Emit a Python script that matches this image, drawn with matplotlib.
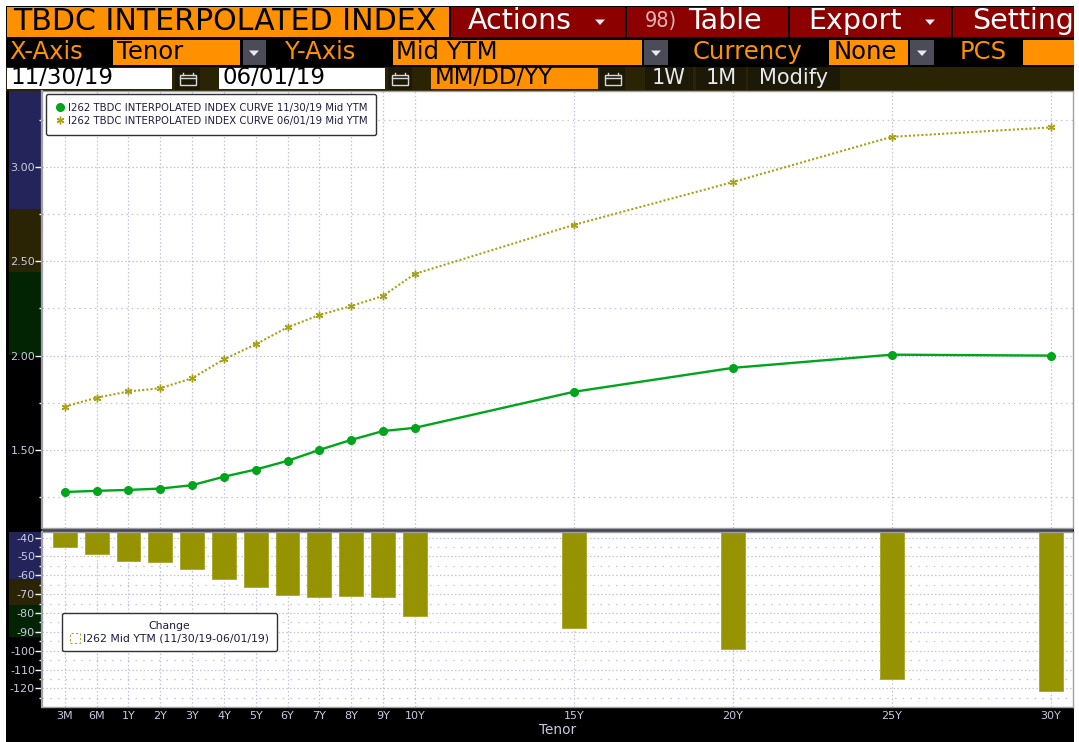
#!/usr/bin/env python3
"""TBDC interpolated index curve screen: yield curves on top, change bars below."""
import matplotlib
matplotlib.use('Agg')
import matplotlib.pyplot as plt
from matplotlib.patches import Patch, Rectangle
from matplotlib.ticker import FixedLocator

W, H = 1079, 742

# ═══════════ data ═══════════
tenors = ['3M', '6M', '1Y', '2Y', '3Y', '4Y', '5Y', '6Y', '7Y', '8Y', '9Y', '10Y', '15Y', '20Y', '25Y', '30Y']
tenor_pos = [-1, 0, 1, 2, 3, 4, 5, 6, 7, 8, 9, 10, 15, 20, 25, 30]
ytm_nov = [1.277, 1.283, 1.288, 1.295, 1.313, 1.358, 1.396, 1.442, 1.50, 1.553, 1.60, 1.617, 1.808, 1.935, 2.005, 2.00]
ytm_jun = [1.73, 1.777, 1.81, 1.827, 1.88, 1.98, 2.06, 2.15, 2.215, 2.263, 2.316, 2.433, 2.693, 2.92, 3.16, 3.21]
change = [-44.8, -48.8, -52.2, -53.1, -56.6, -61.8, -66.4, -70.4, -71.3, -71.0, -71.3, -81.6, -88, -99, -115.2, -121.2]
y_top_ticks = [1.5, 2.0, 2.5, 3.0]
y_bot_ticks = [-40, -50, -60, -70, -80, -90, -100, -110, -120]

label_nov = 'I262 TBDC INTERPOLATED INDEX CURVE 11/30/19 Mid YTM'
label_jun = 'I262 TBDC INTERPOLATED INDEX CURVE 06/01/19 Mid YTM'
label_chg = 'I262 Mid YTM (11/30/19-06/01/19)'

# ═══════════ colours ═══════════
ORANGE = '#ff9100'
RED = '#8c0000'
OLIVE_BG = '#2a2405'
GREY_BTN = '#4c4c58'
TICK_TXT = '#c8cbe0'
GRID = '#c2c2da'
GREEN = '#00a51c'
OLIVE = '#a8a214'
BAR = '#959300'


def px_axes(fig, x0, y0, x1, y1, **kw):
    """axes placed by pixel box (y from the top)"""
    return fig.add_axes([x0 / W, 1 - y1 / H, (x1 - x0) / W, (y1 - y0) / H], **kw)


def box(ui, x0, y0, x1, y1, color, edge='none'):
    ui.add_patch(Rectangle((x0, y0), x1 - x0, y1 - y0, facecolor=color, edgecolor=edge, linewidth=0.8))


def label(ui, x, y, s, color, size=17.5, **kw):
    ui.text(x, y, s, color=color, fontsize=size, va='center', ha=kw.pop('ha', 'left'), **kw)


def arrow(ui, cx, cy, color='#e8e8f4'):
    ui.fill([cx - 5, cx + 5, cx], [cy - 2.5, cy - 2.5, cy + 3], color=color, lw=0)


def calendar(ui, x0, x1, y0, y1):
    box(ui, x0, y0, x1, y1, '#1c1a06')
    cx, cy = (x0 + x1) / 2, (y0 + y1) / 2
    ui.add_patch(Rectangle((cx - 8, cy - 4), 16, 10, fill=False, edgecolor='#d8d8d8', lw=1))
    ui.plot([cx - 8, cx + 8], [cy - 1, cy - 1], color='#d8d8d8', lw=1)
    ui.plot([cx - 5, cx - 5], [cy - 6, cy - 4], color='#d8d8d8', lw=1)
    ui.plot([cx + 5, cx + 5], [cy - 6, cy - 4], color='#d8d8d8', lw=1)


def draw_toolbar(ui):
    # 第一行
    box(ui, 6, 6, 1074, 39, 'black')
    box(ui, 7, 7, 449, 37, ORANGE)
    label(ui, 13, 22, 'TBDC INTERPOLATED INDEX', 'black', size=21.6)
    for x0, x1 in [(451, 625), (627, 788), (790, 951), (953, 1074)]:
        box(ui, x0, 7, x1, 37, RED)
    label(ui, 468, 21, 'Actions', 'white', size=20.5)
    arrow(ui, 600, 22)
    label(ui, 645, 21, '98)', '#e0b4b4', size=15.5, stretch='condensed')
    label(ui, 688, 21, 'Table', 'white', size=20.5)
    label(ui, 808, 21, 'Export', 'white', size=20.5)
    arrow(ui, 930, 22)
    label(ui, 972, 21, 'Setting', 'white', size=20.5)

    # 第二行
    box(ui, 6, 39, 1074, 67, 'black')
    label(ui, 9, 52, 'X-Axis', ORANGE)
    box(ui, 113, 40, 240, 65, ORANGE)
    label(ui, 117, 52, 'Tenor', 'black')
    box(ui, 243, 40, 266, 65, GREY_BTN)
    arrow(ui, 254, 53)
    label(ui, 285, 52, 'Y-Axis', ORANGE)
    box(ui, 393, 40, 642, 65, ORANGE)
    label(ui, 396, 52, 'Mid YTM', 'black')
    box(ui, 644, 40, 668, 65, GREY_BTN)
    arrow(ui, 656, 53)
    label(ui, 693, 52, 'Currency', ORANGE)
    box(ui, 829, 40, 908, 65, ORANGE)
    label(ui, 834, 52, 'None', 'black')
    box(ui, 910, 40, 934, 65, GREY_BTN)
    arrow(ui, 922, 53)
    label(ui, 960, 52, 'PCS', ORANGE)
    box(ui, 1023, 40, 1074, 65, ORANGE)

    # 第三行
    box(ui, 6, 67, 1074, 91, OLIVE_BG)
    box(ui, 7, 68, 172, 89, 'white')
    label(ui, 10, 78, '11/30/19', 'black', size=16.5)
    calendar(ui, 175, 200, 67, 90)
    box(ui, 219, 68, 385, 89, 'white')
    label(ui, 222, 78, '06/01/19', 'black', size=16.5)
    calendar(ui, 388, 412, 67, 90)
    box(ui, 431, 68, 598, 89, ORANGE)
    label(ui, 435, 78, 'MM/DD/YY', 'black', size=16.5)
    calendar(ui, 600, 625, 67, 90)
    for x0, x1, s in [(645, 693, '1W'), (696, 746, '1M'), (748, 840, 'Modify')]:
        box(ui, x0, 67, x1, 90, '#1c1a06')
        label(ui, (x0 + x1) / 2, 78, s, '#e8e8f0', size=15, ha='center')


def draw_sidebar(ui):
    box(ui, 6, 91, 1074, H, 'black')
    # 侧栏色带
    for y0, y1, c in [(91, 209, '#24245a'), (209, 272, '#2a2405'), (272, 355, '#022402'),
                      (532, 579, '#24245a'), (579, 605, '#2a2405'), (605, 637, '#022402')]:
        box(ui, 9, y0, 42, y1, c)
    box(ui, 42, 528, 1073, 532, '#47474d')


def style_panel(ax, major_y, minor_y, minor_gap):
    ax.set_xlim(-1.72, 30.7)
    ax.set_xticks(tenor_pos)
    ax.yaxis.set_major_locator(FixedLocator(major_y))
    ax.yaxis.set_minor_locator(FixedLocator(minor_y))
    ax.set_axisbelow(True)
    ax.grid(True, which='major', color=GRID, linestyle=(0, (1.2, 1.8)), linewidth=0.9)
    ax.grid(True, which='minor', axis='y', color=GRID, linestyle=(0, (1.2, minor_gap)), linewidth=0.9)
    ax.tick_params(axis='y', which='major', colors='white', length=5, width=1, pad=0, labelsize=8,
                   labelcolor=TICK_TXT)
    ax.tick_params(axis='y', which='minor', colors='white', length=2, width=1)
    ax.tick_params(axis='x', length=0, pad=3, labelsize=8, labelcolor=TICK_TXT)
    for name in ('top', 'right', 'bottom', 'left'):
        ax.spines[name].set_color('#a0a0a8')
        ax.spines[name].set_linewidth(1)
    ax.spines['left'].set_linewidth(1.6)


fig = plt.figure(figsize=(W / 100, H / 100), dpi=100, facecolor='white')

ui = px_axes(fig, 0, 0, W, H, zorder=0)
ui.set_xlim(0, W)
ui.set_ylim(H, 0)
ui.axis('off')
draw_sidebar(ui)
draw_toolbar(ui)

# ═══════════ 上图：收益率曲线 ═══════════
ax1 = px_axes(fig, 42, 91, 1073, 528, zorder=2)
ax1.set_ylim(1.086, 3.403)
style_panel(ax1, y_top_ticks, [1.25, 1.75, 2.25, 2.75, 3.25], 3.0)
ax1.set_yticklabels([f'{v:.2f}' for v in y_top_ticks])
ax1.tick_params(axis='x', labelbottom=False)
line_nov, = ax1.plot(tenor_pos, ytm_nov, color=GREEN, lw=1.7, marker='o', ms=5.5, label=label_nov)
line_jun, = ax1.plot(tenor_pos, ytm_jun, color=OLIVE, lw=1.5, linestyle=(0, (1, 1)), marker=(6, 2, 0),
                     ms=5.5, mew=1, label=label_jun)
leg = ax1.legend(handles=[line_nov, line_jun], loc='upper left', bbox_to_anchor=(4 / 1031, 1 - 3 / 437),
                 borderaxespad=0, fontsize=7.33, frameon=True, fancybox=True, edgecolor='#303038',
                 framealpha=1, labelspacing=0.3, handlelength=0.9, handletextpad=0.34, borderpad=0.88,
                 numpoints=1)
leg.get_frame().set_linewidth(1)
for t in leg.get_texts():
    t.set_color('#1c1c3c')
for h in leg.legend_handles:
    h.set_linestyle('none')

# ═══════════ 下图：变化柱 ═══════════
ax2 = px_axes(fig, 42, 532, 1073, 707, zorder=2)
ax2.set_ylim(-129.9, -37)
style_panel(ax2, y_bot_ticks, [-45, -55, -65, -75, -85, -95, -105, -115, -125], 5.0)
ax2.set_yticklabels([str(v) for v in y_bot_ticks])
ax2.set_xticklabels(tenors)
ax2.bar(tenor_pos, change, width=0.75, color=BAR, edgecolor='#a8a62a', linewidth=0.6)
ax2.set_xlabel('Tenor', color=TICK_TXT, fontsize=9.8, labelpad=1)
proxy = Patch(facecolor='none', edgecolor=OLIVE, linestyle=(0, (2, 2)), linewidth=0.8, label=label_chg)
leg2 = ax2.legend(handles=[proxy], title='Change', loc='upper left',
                  bbox_to_anchor=(20 / 1031, 1 - 81 / 175), borderaxespad=0, fontsize=7.8,
                  title_fontsize=7.8, frameon=True, fancybox=True, edgecolor='#303038', framealpha=1,
                  handlelength=0.95, handleheight=0.95, handletextpad=0.3, borderpad=0.7, labelspacing=0.25)
leg2.get_frame().set_linewidth(1)
leg2.get_title().set_color('#1c1c3c')
for t in leg2.get_texts():
    t.set_color('#1c1c3c')

fig.savefig('out.png', dpi=100, facecolor='white')
